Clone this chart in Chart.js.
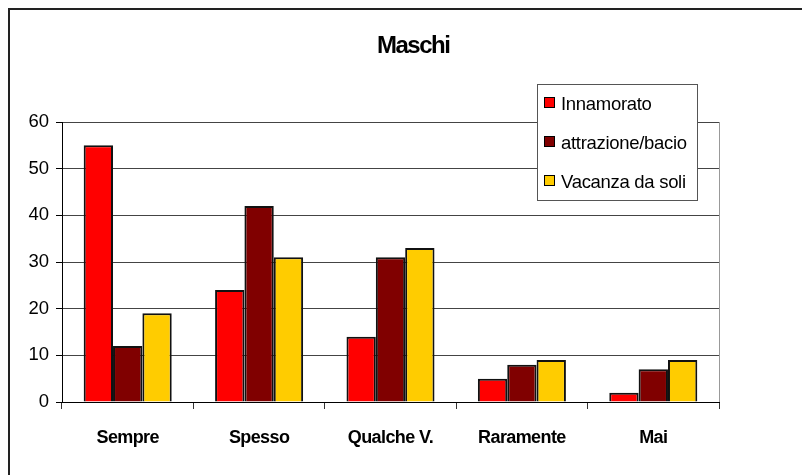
<!DOCTYPE html>
<html>
<head>
<meta charset="utf-8">
<script src="https://cdn.jsdelivr.net/npm/chart.js@4.4.1/dist/chart.umd.min.js"></script>
<style>
  html, body { margin: 0; padding: 0; background: #fff; }
  #wrap { position: relative; width: 802px; height: 475px; }
</style>
</head>
<body>
<div id="wrap"><canvas id="c" width="802" height="475"></canvas></div>
<script>
const titleText = "Maschi";
const categories = ["Sempre", "Spesso", "Qualche V.", "Raramente", "Mai"];
const seriesNames = ["Innamorato", "attrazione/bacio", "Vacanza da soli"];
const innamorato = [55, 24, 14, 5, 2];
const attrazione = [12, 42, 31, 8, 7];
const vacanza = [19, 31, 33, 9, 9];
const seriesColors = ["#FF0000", "#800000", "#FFCC00"];
const yTicks = { min: 0, max: 60, step: 10 };

const FONT = "'Liberation Sans', Arial, sans-serif";

const framePlugin = {
  id: 'frame',
  beforeDraw(chart) {
    const ctx = chart.ctx;
    ctx.save();
    ctx.fillStyle = '#fff';
    ctx.fillRect(0, 0, chart.width, chart.height);
    ctx.restore();
  },
  afterLayout(chart) {
    const xs = chart.scales.x;
    if (xs && !xs._lsPatched) {
      const orig = xs.drawLabels.bind(xs);
      xs.drawLabels = function (ca) {
        const ctx = chart.ctx;
        ctx.save();
        ctx.letterSpacing = '-0.6px';
        orig(ca);
        ctx.restore();
      };
      xs._lsPatched = true;
    }
  },
  afterDraw(chart) {
    const ctx = chart.ctx;
    ctx.save();
    // outer frame
    ctx.strokeStyle = '#222';
    ctx.lineWidth = 2;
    ctx.strokeRect(9, 9, 1000, 1000);
    // title
    ctx.fillStyle = '#000';
    ctx.font = "bold 24px " + FONT;
    ctx.letterSpacing = '-1.5px';
    ctx.textAlign = 'left';
    ctx.textBaseline = 'alphabetic';
    ctx.fillText(titleText, 377, 53);
    ctx.letterSpacing = '0px';
    // legend
    const lx = 537.5, ly = 84.5, lw = 160, lh = 116;
    ctx.fillStyle = '#fff';
    ctx.fillRect(lx, ly, lw, lh);
    ctx.strokeStyle = '#555';
    ctx.lineWidth = 1;
    ctx.strokeRect(lx, ly, lw, lh);
    ctx.font = "18.5px " + FONT;
    ctx.letterSpacing = '-0.3px';
    ctx.textAlign = 'left';
    chart.data.datasets.forEach((ds, i) => {
      const base = 110 + i * 39;
      ctx.fillStyle = ds.backgroundColor;
      ctx.fillRect(544.5, base - 12.5, 10, 10);
      ctx.strokeStyle = '#000';
      ctx.lineWidth = 1;
      ctx.strokeRect(544.5, base - 12.5, 10, 10);
      ctx.fillStyle = '#000';
      ctx.fillText(ds.label, 561, base);
    });
    ctx.restore();
  }
};

const seriesData = [innamorato, attrazione, vacanza];

new Chart(document.getElementById('c'), {
  type: 'bar',
  data: {
    labels: categories,
    datasets: seriesNames.map((n, i) => ({
      label: n,
      data: seriesData[i],
      backgroundColor: seriesColors[i],
      borderColor: '#111',
      borderWidth: 2,
      categoryPercentage: 0.67,
      barPercentage: 1.0
    }))
  },
  options: {
    responsive: false,
    animation: false,
    devicePixelRatio: 1,
    layout: { padding: { left: 0, right: 83, top: 122, bottom: 0 } },
    plugins: {
      legend: { display: false },
      title: { display: false },
      tooltip: { enabled: false }
    },
    scales: {
      x: {
        offset: true,
        grid: {
          offset: true,
          drawOnChartArea: true,
          color: (c) => (c.index === undefined || c.index >= categories.length) ? '#999' : 'rgba(0,0,0,0)',
          tickColor: '#333',
          tickLength: 7,
          lineWidth: 1
        },
        border: { display: true, color: '#000', width: 1 },
        ticks: {
          color: '#000',
          font: { family: FONT, size: 18, weight: 'bold' },
          padding: 18,
          maxRotation: 0
        },
        afterFit(scale) { scale.height = 73; }
      },
      y: {
        min: yTicks.min,
        max: yTicks.max,
        ticks: {
          stepSize: yTicks.step,
          color: '#000',
          font: { family: FONT, size: 18.5 },
          padding: 7
        },
        grid: {
          color: '#444',
          lineWidth: 1,
          tickLength: 6,
          tickColor: '#000'
        },
        border: { display: true, color: '#000', width: 1 },
        afterFit(scale) { scale.width = 62; }
      }
    }
  },
  plugins: [framePlugin]
});
</script>
</body>
</html>
